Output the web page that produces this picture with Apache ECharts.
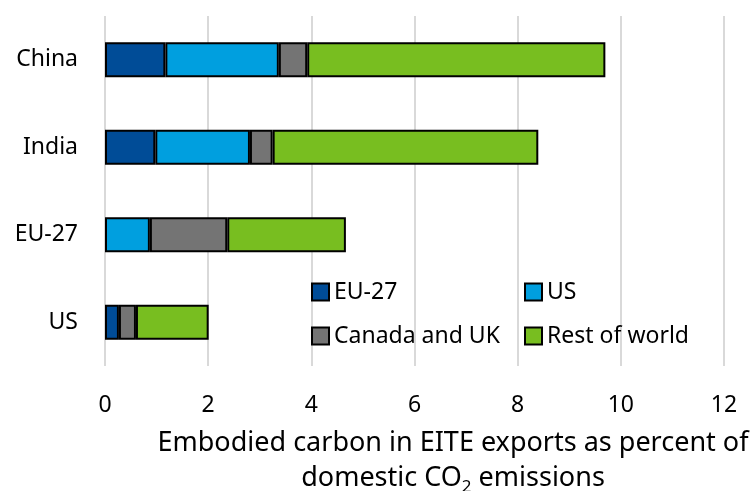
<!DOCTYPE html>
<html>
<head>
<meta charset="utf-8">
<script src="https://cdn.jsdelivr.net/npm/echarts@6/dist/echarts.min.js"></script>
<style>html,body{margin:0;padding:0;background:#fff}#c{width:751px;height:491px}</style>
</head>
<body>
<div id="c"></div>
<script>
const categories = ['US', 'EU-27', 'India', 'China'];
const seriesNames = ['EU-27', 'US', 'Canada and UK', 'Rest of world'];
const euValues = [0.27, 0, 0.975, 1.17];
const usValues = [0, 0.87, 1.835, 2.20];
const cukValues = [0.33, 1.50, 0.44, 0.55];
const rowValues = [1.41, 2.30, 5.15, 5.78];
const xTicks = [0, 2, 4, 6, 8, 10, 12];

const colors = ['#004C97', '#009FDF', '#747474', '#78BE20'];
const values = [euValues, usValues, cukValues, rowValues];
const FONT = 'Noto Sans';

const legendCommon = {
  left: 311, padding: 0, icon: 'rect',
  itemWidth: 17, itemHeight: 17, itemGap: 10, itemTextGap: 7,
  itemStyle: {borderColor: '#000', borderWidth: 2},
  textStyle: {fontFamily: FONT, fontSize: 23, color: '#000', width: 180, lineHeight: 24}
};

const chart = echarts.init(document.getElementById('c'), null, {renderer: 'canvas'});
chart.setOption({
  animation: false,
  textStyle: {fontFamily: FONT},
  grid: {left: 105, right: 27, top: 16, bottom: 125, containLabel: false, outerBoundsMode: 'none'},
  legend: [
    Object.assign({data: ['EU-27', 'US'], top: 280}, legendCommon),
    Object.assign({data: ['Canada and UK', 'Rest of world'], top: 324}, legendCommon)
  ],
  xAxis: {
    type: 'value', min: xTicks[0], max: xTicks[xTicks.length - 1], interval: 2,
    axisLine: {show: false}, axisTick: {show: false},
    splitLine: {lineStyle: {color: '#d9d9d9', width: 2}},
    axisLabel: {fontFamily: FONT, fontSize: 23, color: '#000', margin: 28},
    name: 'Embodied carbon in EITE exports as percent of\ndomestic CO{sub|2} emissions',
    nameLocation: 'middle', nameGap: 60,
    nameTextStyle: {
      fontFamily: FONT, fontSize: 27, color: '#000', lineHeight: 35,
      padding: [0, 0, 0, 77],
      rich: {sub: {fontFamily: FONT, fontSize: 17, color: '#000', verticalAlign: 'bottom', lineHeight: 35, padding: [12, 0, 0, 0]}}
    }
  },
  yAxis: {
    type: 'category', data: categories,
    axisLine: {show: false}, axisTick: {show: false},
    axisLabel: {fontFamily: FONT, fontSize: 23, color: '#000', margin: 27}
  },
  series: seriesNames.map((n, i) => ({
    name: n, type: 'bar', stack: 'total', barWidth: 35,
    data: values[i].map(v => (v === 0 ? '-' : v)),
    itemStyle: {color: colors[i], borderColor: '#000', borderWidth: 2}
  }))
});
</script>
</body>
</html>
